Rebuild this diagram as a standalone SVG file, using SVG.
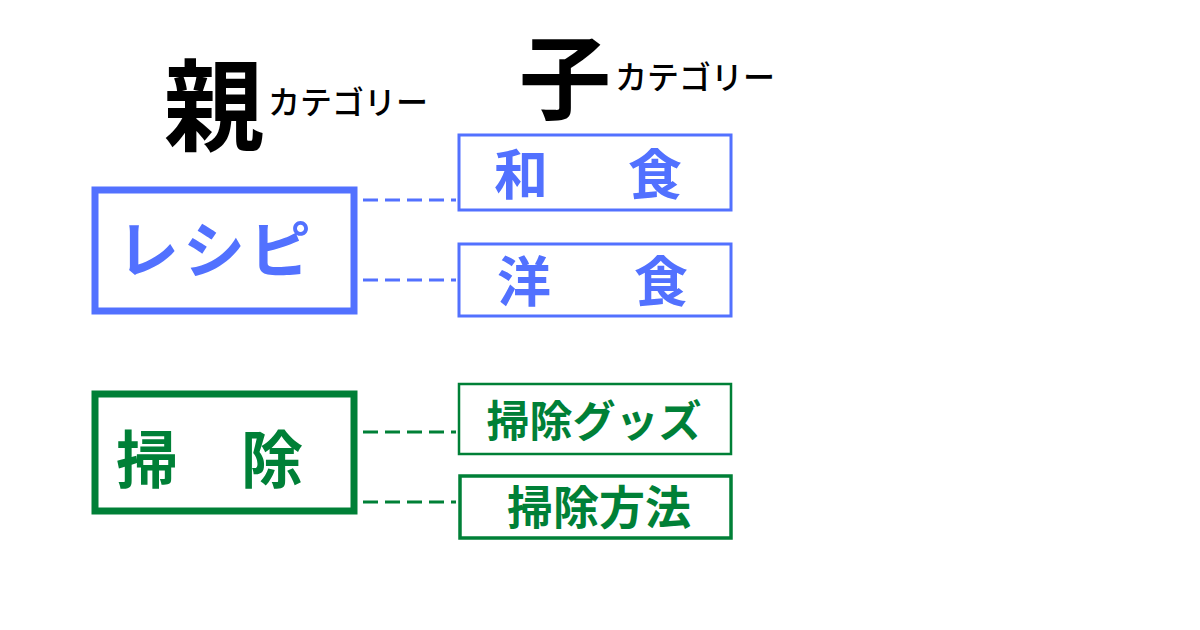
<svg xmlns="http://www.w3.org/2000/svg" width="1200" height="630" viewBox="0 0 1200 630">
<style>
.t{font-family:"Noto Sans CJK JP","Noto Sans",sans-serif;font-weight:700}
.k{font-family:"Noto Sans CJK JP","Noto Sans",sans-serif;font-weight:500;fill:#000}
.blue{fill:#5271FF}
.green{fill:#008037}
.bbox{fill:#fff;stroke:#5271FF}
.gbox{fill:#fff;stroke:#008037}
.dash{stroke-width:3;stroke-dasharray:15 7;fill:none}
</style>
<rect width="1200" height="630" fill="#fff"/>
<g id="headers">
<text class="t" x="214" y="143" font-size="100" text-anchor="middle" fill="#000">親</text>
<text class="k" x="268" y="114" font-size="32">カテゴリー</text>
<text class="t" x="565" y="112" font-size="92" text-anchor="middle" fill="#000">子</text>
<text class="k" x="615" y="89" font-size="32">カテゴリー</text>
</g>
<g id="connectors">
<line class="dash" x1="363" y1="200" x2="456" y2="200" stroke="#5271FF"/>
<line class="dash" x1="363" y1="280" x2="456" y2="280" stroke="#5271FF"/>
<line class="dash" x1="363" y1="432" x2="456" y2="432" stroke="#008037"/>
<line class="dash" x1="363" y1="502" x2="456" y2="502" stroke="#008037"/>
</g>
<g id="node-recipe">
<rect class="bbox" x="95" y="190" width="259" height="121" stroke-width="7"/>
<text class="t blue" x="216" y="273" font-size="62" text-anchor="middle" letter-spacing="4">レシピ</text>
</g>
<g id="node-washoku">
<rect class="bbox" x="459" y="135" width="272" height="75" stroke-width="3"/>
<text class="t blue" x="521" y="195" font-size="54" text-anchor="middle">和</text>
<text class="t blue" x="655" y="195" font-size="54" text-anchor="middle">食</text>
</g>
<g id="node-yoshoku">
<rect class="bbox" x="459" y="244" width="272" height="72" stroke-width="3"/>
<text class="t blue" x="524" y="302" font-size="54" text-anchor="middle">洋</text>
<text class="t blue" x="661" y="302" font-size="54" text-anchor="middle">食</text>
</g>
<g id="node-soji">
<rect class="gbox" x="95" y="394" width="259" height="117" stroke-width="7"/>
<text class="t green" x="147" y="483" font-size="62" text-anchor="middle">掃</text>
<text class="t green" x="272" y="483" font-size="62" text-anchor="middle">除</text>
</g>
<g id="node-goods">
<rect class="gbox" x="459" y="384" width="272" height="70" stroke-width="2.5"/>
<text class="t green" x="594" y="437" font-size="43" text-anchor="middle">掃除グッズ</text>
</g>
<g id="node-method">
<rect class="gbox" x="460" y="476" width="271" height="62" stroke-width="3.5"/>
<text class="t green" x="599" y="524" font-size="46" text-anchor="middle">掃除方法</text>
</g>
</svg>
